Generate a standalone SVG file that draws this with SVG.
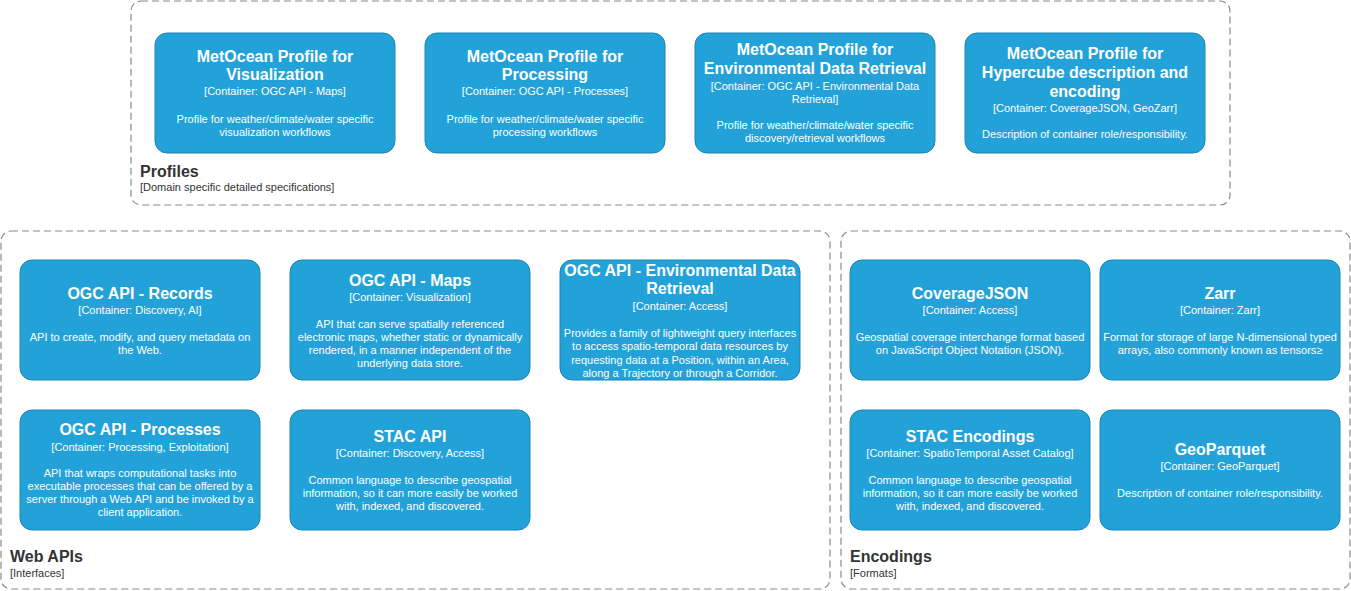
<svg xmlns="http://www.w3.org/2000/svg" width="1351" height="591" viewBox="0 0 1351 591">
<style>
.bnd{fill:none;stroke:#8a8a8a;stroke-width:1.2;stroke-dasharray:7,4}
.node{fill:#23a2d9;stroke:#1a85b6;stroke-width:1}
text{font-family:"Liberation Sans",Arial,sans-serif;text-anchor:middle;fill:#ffffff}
.t{font-size:16px;font-weight:bold}
.s{font-size:11px}
.bl{text-anchor:start;fill:#333333;font-size:16px;font-weight:bold}
.bs{text-anchor:start;fill:#333333;font-size:11px}
</style>
<rect width="1351" height="591" fill="#ffffff"/>
<g id="connectors"></g>
<g id="profiles">
<rect class="bnd" x="131" y="1" width="1099" height="204" rx="10"/>
<text class="bl" x="140" y="177">Profiles</text>
<text class="bs" x="140" y="191">[Domain specific detailed specifications]</text>
</g>
<g id="webapis">
<rect class="bnd" x="1" y="231" width="829" height="358" rx="10"/>
<text class="bl" x="10" y="562">Web APIs</text>
<text class="bs" x="10" y="577">[Interfaces]</text>
</g>
<g id="encodings">
<rect class="bnd" x="841" y="231" width="509" height="358" rx="10"/>
<text class="bl" x="850" y="562">Encodings</text>
<text class="bs" x="850" y="577">[Formats]</text>
</g>
<g id="p-vis">
<rect class="node" x="155" y="33" width="240" height="120" rx="12"/>
<text class="t" x="275" y="62">MetOcean Profile for</text>
<text class="t" x="275" y="80">Visualization</text>
<text class="s" x="275" y="95">[Container: OGC API - Maps]</text>
<text class="s" x="275" y="123">Profile for weather/climate/water specific</text>
<text class="s" x="275" y="136">visualization workflows</text>
</g>
<g id="p-proc">
<rect class="node" x="425" y="33" width="240" height="120" rx="12"/>
<text class="t" x="545" y="62">MetOcean Profile for</text>
<text class="t" x="545" y="80">Processing</text>
<text class="s" x="545" y="95">[Container: OGC API - Processes]</text>
<text class="s" x="545" y="123">Profile for weather/climate/water specific</text>
<text class="s" x="545" y="136">processing workflows</text>
</g>
<g id="p-edr">
<rect class="node" x="695" y="33" width="240" height="120" rx="12"/>
<text class="t" x="815" y="55">MetOcean Profile for</text>
<text class="t" x="815" y="74">Environmental Data Retrieval</text>
<text class="s" x="815" y="90">[Container: OGC API - Environmental Data</text>
<text class="s" x="815" y="103">Retrieval]</text>
<text class="s" x="815" y="129">Profile for weather/climate/water specific</text>
<text class="s" x="815" y="142">discovery/retrieval workflows</text>
</g>
<g id="p-hyper">
<rect class="node" x="965" y="33" width="240" height="120" rx="12"/>
<text class="t" x="1085" y="59">MetOcean Profile for</text>
<text class="t" x="1085" y="78">Hypercube description and</text>
<text class="t" x="1085" y="97">encoding</text>
<text class="s" x="1085" y="112">[Container: CoverageJSON, GeoZarr]</text>
<text class="s" x="1085" y="138">Description of container role/responsibility.</text>
</g>
<g id="records">
<rect class="node" x="20" y="260" width="240" height="120" rx="12"/>
<text class="t" x="140" y="299">OGC API - Records</text>
<text class="s" x="140" y="314">[Container: Discovery, AI]</text>
<text class="s" x="140" y="341">API to create, modify, and query metadata on</text>
<text class="s" x="140" y="354">the Web.</text>
</g>
<g id="maps">
<rect class="node" x="290" y="260" width="240" height="120" rx="12"/>
<text class="t" x="410" y="286">OGC API - Maps</text>
<text class="s" x="410" y="301">[Container: Visualization]</text>
<text class="s" x="410" y="328">API that can serve spatially referenced</text>
<text class="s" x="410" y="341">electronic maps, whether static or dynamically</text>
<text class="s" x="410" y="354">rendered, in a manner independent of the</text>
<text class="s" x="410" y="367">underlying data store.</text>
</g>
<g id="edr">
<rect class="node" x="560" y="260" width="240" height="120" rx="12"/>
<text class="t" x="680" y="276">OGC API - Environmental Data</text>
<text class="t" x="680" y="294">Retrieval</text>
<text class="s" x="680" y="310">[Container: Access]</text>
<text class="s" x="680" y="337">Provides a family of lightweight query interfaces</text>
<text class="s" x="680" y="350">to access spatio-temporal data resources by</text>
<text class="s" x="680" y="364">requesting data at a Position, within an Area,</text>
<text class="s" x="680" y="377">along a Trajectory or through a Corridor.</text>
</g>
<g id="processes">
<rect class="node" x="20" y="410" width="240" height="120" rx="12"/>
<text class="t" x="140" y="435">OGC API - Processes</text>
<text class="s" x="140" y="451">[Container: Processing, Exploitation]</text>
<text class="s" x="140" y="477">API that wraps computational tasks into</text>
<text class="s" x="140" y="490">executable processes that can be offered by a</text>
<text class="s" x="140" y="503">server through a Web API and be invoked by a</text>
<text class="s" x="140" y="516">client application.</text>
</g>
<g id="stacapi">
<rect class="node" x="290" y="410" width="240" height="120" rx="12"/>
<text class="t" x="410" y="442">STAC API</text>
<text class="s" x="410" y="457">[Container: Discovery, Access]</text>
<text class="s" x="410" y="484">Common language to describe geospatial</text>
<text class="s" x="410" y="497">information, so it can more easily be worked</text>
<text class="s" x="410" y="510">with, indexed, and discovered.</text>
</g>
<g id="coveragejson">
<rect class="node" x="850" y="260" width="240" height="120" rx="12"/>
<text class="t" x="970" y="299">CoverageJSON</text>
<text class="s" x="970" y="314">[Container: Access]</text>
<text class="s" x="970" y="341">Geospatial coverage interchange format based</text>
<text class="s" x="970" y="354">on JavaScript Object Notation (JSON).</text>
</g>
<g id="zarr">
<rect class="node" x="1100" y="260" width="240" height="120" rx="12"/>
<text class="t" x="1220" y="299">Zarr</text>
<text class="s" x="1220" y="314">[Container: Zarr]</text>
<text class="s" x="1220" y="341">Format for storage of large N-dimensional typed</text>
<text class="s" x="1220" y="354">arrays, also commonly known as tensors≥</text>
</g>
<g id="stacenc">
<rect class="node" x="850" y="410" width="240" height="120" rx="12"/>
<text class="t" x="970" y="442">STAC Encodings</text>
<text class="s" x="970" y="457">[Container: SpatioTemporal Asset Catalog]</text>
<text class="s" x="970" y="484">Common language to describe geospatial</text>
<text class="s" x="970" y="497">information, so it can more easily be worked</text>
<text class="s" x="970" y="510">with, indexed, and discovered.</text>
</g>
<g id="geoparquet">
<rect class="node" x="1100" y="410" width="240" height="120" rx="12"/>
<text class="t" x="1220" y="455">GeoParquet</text>
<text class="s" x="1220" y="470">[Container: GeoParquet]</text>
<text class="s" x="1220" y="497">Description of container role/responsibility.</text>
</g>
</svg>
